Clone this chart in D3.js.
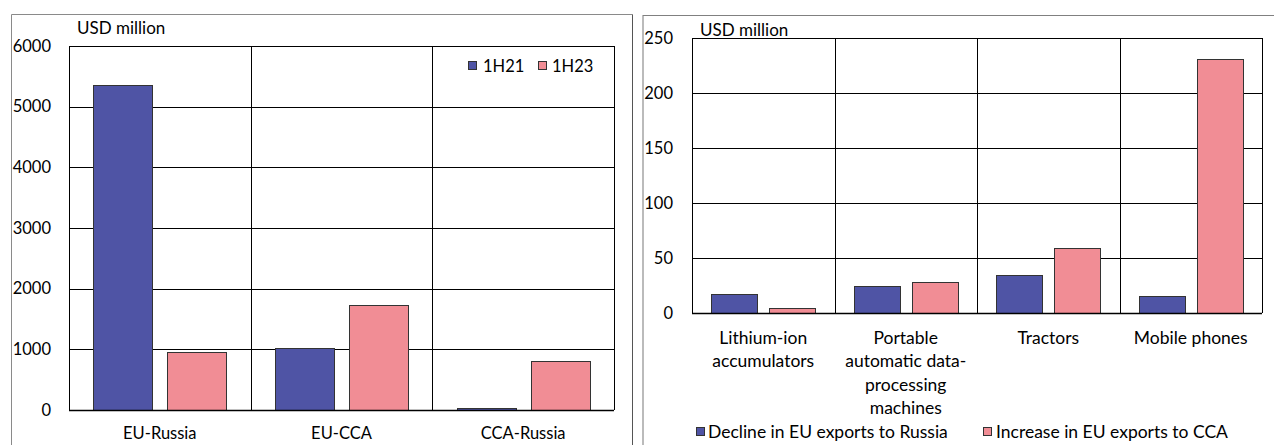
<!DOCTYPE html>
<html>
<head>
<meta charset="utf-8">
<script src="https://cdn.jsdelivr.net/npm/d3@7"></script>
<style>
  body { margin: 0; background: #fff; }
  svg { display: block; font-family: Lato, "Open Sans", sans-serif; }
</style>
</head>
<body>
<svg id="chart" width="1274" height="445"></svg>
<script>
// ---- data ----
const leftCategories = ["EU-Russia", "EU-CCA", "CCA-Russia"];
const leftSeries = ["1H21", "1H23"];
const left1H21 = [5360, 1020, 40];
const left1H23 = [960, 1725, 810];
const leftTicks = [0, 1000, 2000, 3000, 4000, 5000, 6000];

const rightCategories = [
  ["Lithium-ion", "accumulators"],
  ["Portable", "automatic data-", "processing", "machines"],
  ["Tractors"],
  ["Mobile phones"]
];
const rightSeries = ["Decline in EU exports to Russia", "Increase in EU exports to CCA"];
const rightDecline = [17.5, 25, 35, 15];
const rightIncrease = [5, 28.5, 59.5, 231];
const rightTicks = [0, 50, 100, 150, 200, 250];

const unitLabel = "USD million";
const colors = ["#4f54a5", "#f18d95"];

const svg = d3.select("#chart");

// panel frames
svg.append("path").attr("d", "M11.5,460V14.5H632.5").attr("fill", "none").attr("stroke", "#8a8a8a");
svg.append("line").attr("x1", 632.5).attr("x2", 632.5).attr("y1", 14.5).attr("y2", 460).attr("stroke", "#555");
svg.append("line").attr("x1", 643).attr("x2", 643).attr("y1", 15).attr("y2", 460).attr("stroke", "#bbb").attr("stroke-width", 2);
svg.append("line").attr("x1", 643).attr("x2", 1280).attr("y1", 15.5).attr("y2", 15.5).attr("stroke", "#808080");

function panel({cats, series, values, ticks, box, tickSize, unitSize, tickX, unitPos}) {
  const g = svg.append("g");
  const x0 = d3.scaleBand().domain(d3.range(cats.length)).range([box.l, box.r]).padding(0);
  const x1 = d3.scaleBand().domain(d3.range(series.length)).range([0, x0.bandwidth()])
    .paddingInner(0.2).paddingOuter(0.33);
  const y = d3.scaleLinear().domain([ticks[0], ticks[ticks.length - 1]]).range([box.b, box.t]);

  // grid lines
  g.selectAll(".hg").data(ticks).join("line")
    .attr("x1", box.l).attr("x2", box.r)
    .attr("y1", d => Math.round(y(d)) + 0.5).attr("y2", d => Math.round(y(d)) + 0.5)
    .attr("stroke", "#000");
  g.selectAll(".vg").data(d3.range(cats.length + 1)).join("line")
    .attr("x1", i => Math.round(i < cats.length ? x0(i) : box.r) + 0.5)
    .attr("x2", i => Math.round(i < cats.length ? x0(i) : box.r) + 0.5)
    .attr("y1", y(ticks[ticks.length - 1])).attr("y2", box.b)
    .attr("stroke", "#000");

  // bars
  values.forEach((vals, s) => {
    g.selectAll(".bar" + s).data(vals).join("rect")
      .attr("x", (d, i) => Math.round(x0(i) + x1(s)) + 0.5)
      .attr("width", Math.round(x1.bandwidth()))
      .attr("y", d => Math.round(y(d)) + 0.5)
      .attr("height", d => Math.round(y(0)) - Math.round(y(d)))
      .attr("fill", colors[s]).attr("stroke", "#333").attr("stroke-width", 1);
  });

  // baseline
  g.append("line").attr("x1", box.l).attr("x2", box.r)
    .attr("y1", Math.round(y(0)) + 0.5).attr("y2", Math.round(y(0)) + 0.5).attr("stroke", "#000").attr("stroke-width", 1.5);

  // y tick labels
  g.selectAll(".yt").data(ticks).join("text")
    .attr("x", tickX).attr("y", d => y(d)).attr("dy", "0.35em")
    .attr("text-anchor", "end").attr("font-size", tickSize)
    .text(d => d);

  g.append("text").attr("x", unitPos[0]).attr("y", unitPos[1])
    .attr("font-size", unitSize).text(unitLabel);

  return {g, x0, y};
}

// left panel
const L = panel({
  cats: leftCategories, series: leftSeries, values: [left1H21, left1H23],
  ticks: leftTicks, box: {l: 69, r: 614, t: 46, b: 410},
  tickSize: 16.5, unitSize: 17, tickX: 51, unitPos: [77, 34]
});
L.g.selectAll(".xl").data(leftCategories).join("text")
  .attr("x", (d, i) => L.x0(i) + L.x0.bandwidth() / 2).attr("y", 439)
  .attr("text-anchor", "middle").attr("font-size", 16.5).text(d => d);

const leftLeg = [[468, 483], [538, 552]];
leftSeries.forEach((s, i) => {
  L.g.append("rect").attr("x", leftLeg[i][0] + 0.5).attr("y", 61.5).attr("width", 8).attr("height", 8)
    .attr("fill", colors[i]).attr("stroke", "#333");
  L.g.append("text").attr("x", leftLeg[i][1]).attr("y", 72).attr("font-size", 16.5).text(s);
});

// right panel
const R = panel({
  cats: rightCategories, series: rightSeries, values: [rightDecline, rightIncrease],
  ticks: rightTicks, box: {l: 692, r: 1262, t: 38, b: 313},
  tickSize: 16.5, unitSize: 17, tickX: 673, unitPos: [700, 36]
});
R.g.selectAll(".xl").data(rightCategories).join("text")
  .attr("text-anchor", "middle").attr("font-size", 17.5)
  .each(function(lines, i) {
    d3.select(this).selectAll("tspan").data(lines).join("tspan")
      .attr("x", R.x0(i) + R.x0.bandwidth() / 2)
      .attr("y", (d, j) => 344 + j * 23.4)
      .text(d => d);
  });

const rightLeg = [[696, 708], [983, 996]];
rightSeries.forEach((s, i) => {
  R.g.append("rect").attr("x", rightLeg[i][0] + 0.5).attr("y", 427.5).attr("width", 8).attr("height", 8)
    .attr("fill", colors[i]).attr("stroke", "#333");
  R.g.append("text").attr("x", rightLeg[i][1]).attr("y", 438).attr("font-size", 17.5).text(s);
});
</script>
</body>
</html>
